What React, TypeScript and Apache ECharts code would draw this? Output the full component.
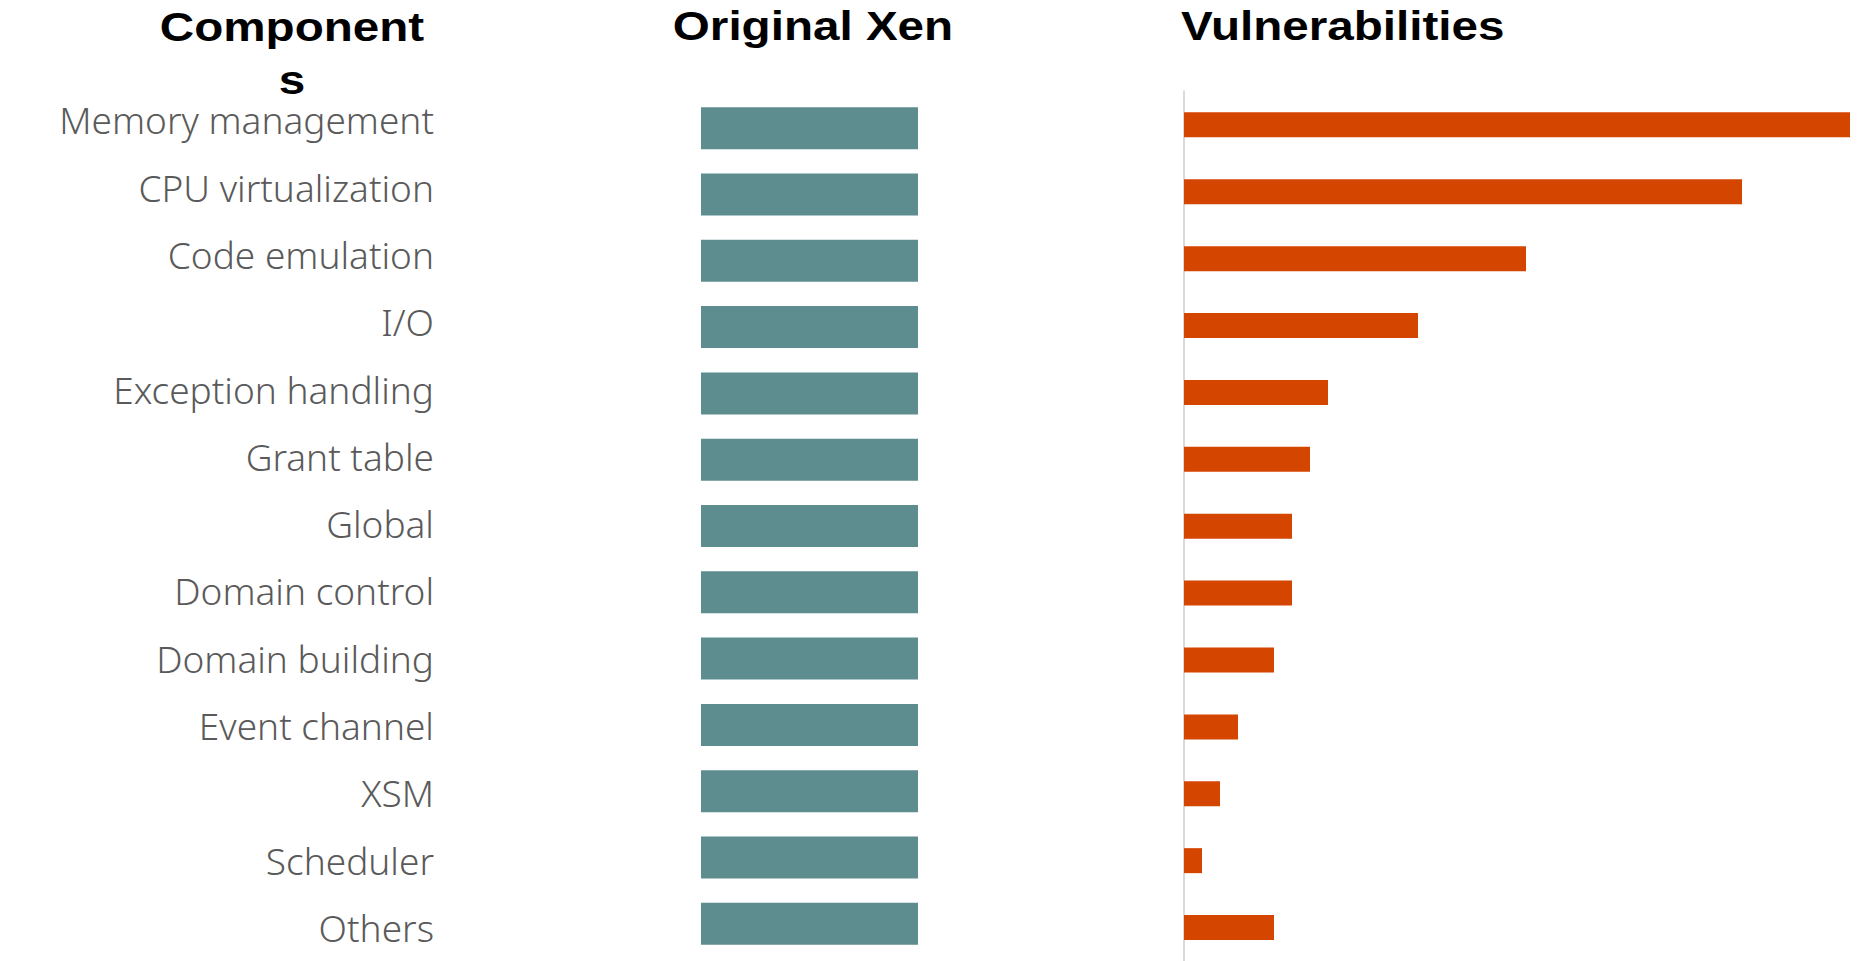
import React, { useEffect, useRef } from "react";
import * as echarts from "echarts";

const components = [
  "Memory management",
  "CPU virtualization",
  "Code emulation",
  "I/O",
  "Exception handling",
  "Grant table",
  "Global",
  "Domain control",
  "Domain building",
  "Event channel",
  "XSM",
  "Scheduler",
  "Others",
];
const originalXen = [1, 1, 1, 1, 1, 1, 1, 1, 1, 1, 1, 1, 1];
const vulnerabilities = [37, 31, 19, 13, 8, 7, 6, 6, 5, 3, 2, 1, 5];
const columnTitles = ["Component\ns", "Original Xen", "Vulnerabilities"];

export default function App() {
  const ref = useRef<HTMLDivElement>(null);
  useEffect(() => {
    const chart = echarts.init(ref.current!, null, { renderer: "svg" });
    const titleStyle = {
      fill: "#000000",
      fontSize: 40,
      fontWeight: "bold",
      fontFamily: '"Liberation Sans", Arial, sans-serif',
    };
    const option = {
      animation: false,
      backgroundColor: "#ffffff",
      grid: [
        { left: 701, top: 95, width: 217, height: 862 },
        { left: 1184, top: 91.4, width: 666, height: 873 },
        { left: 700, top: 86.2, width: 1, height: 878.2 },
      ],
      xAxis: [
        { gridIndex: 0, type: "value", min: 0, max: 1, show: false },
        { gridIndex: 1, type: "value", min: 0, max: 37, show: false },
        { gridIndex: 2, type: "value", min: 0, max: 1, show: false },
      ],
      yAxis: [
        {
          gridIndex: 0,
          type: "category",
          data: components,
          inverse: true,
          show: false,
        },
        {
          gridIndex: 1,
          type: "category",
          data: components,
          inverse: true,
          axisLine: { show: true, lineStyle: { color: "#d9d9d9", width: 2 } },
          axisTick: { show: false },
          splitLine: { show: false },
          axisLabel: { show: false },
        },
        {
          gridIndex: 2,
          type: "category",
          data: components,
          inverse: true,
          axisLine: { show: false },
          axisTick: { show: false },
          splitLine: { show: false },
          axisLabel: {
            interval: 0,
            margin: 266,
            color: "#5a5a5a",
            fontSize: 37,
            fontWeight: 300,
            fontFamily: '"Noto Sans", sans-serif',
          },
        },
      ],
      series: [
        {
          type: "bar",
          xAxisIndex: 0,
          yAxisIndex: 0,
          data: originalXen,
          barWidth: 42,
          itemStyle: { color: "#5E8D8F" },
        },
        {
          type: "bar",
          xAxisIndex: 1,
          yAxisIndex: 1,
          data: vulnerabilities,
          barWidth: 25,
          itemStyle: { color: "#D44500" },
        },
      ],
      graphic: [
        {
          type: "text",
          x: 292,
          y: 0,
          scaleX: 1.19,
          style: {
            ...titleStyle,
            text: columnTitles[0],
            align: "center",
            verticalAlign: "top",
            lineHeight: 53,
          },
        },
        {
          type: "text",
          x: 813,
          y: 26,
          scaleX: 1.19,
          style: {
            ...titleStyle,
            text: columnTitles[1],
            align: "center",
            verticalAlign: "middle",
          },
        },
        {
          type: "text",
          x: 1181,
          y: 26,
          scaleX: 1.19,
          style: {
            ...titleStyle,
            text: columnTitles[2],
            align: "left",
            verticalAlign: "middle",
          },
        },
      ],
    };
    chart.setOption(option as any);
    return () => chart.dispose();
  }, []);
  return (
    <div
      ref={ref}
      style={{
        position: "absolute",
        left: 0,
        top: 0,
        width: 1861,
        height: 961,
        background: "#ffffff",
      }}
    />
  );
}
